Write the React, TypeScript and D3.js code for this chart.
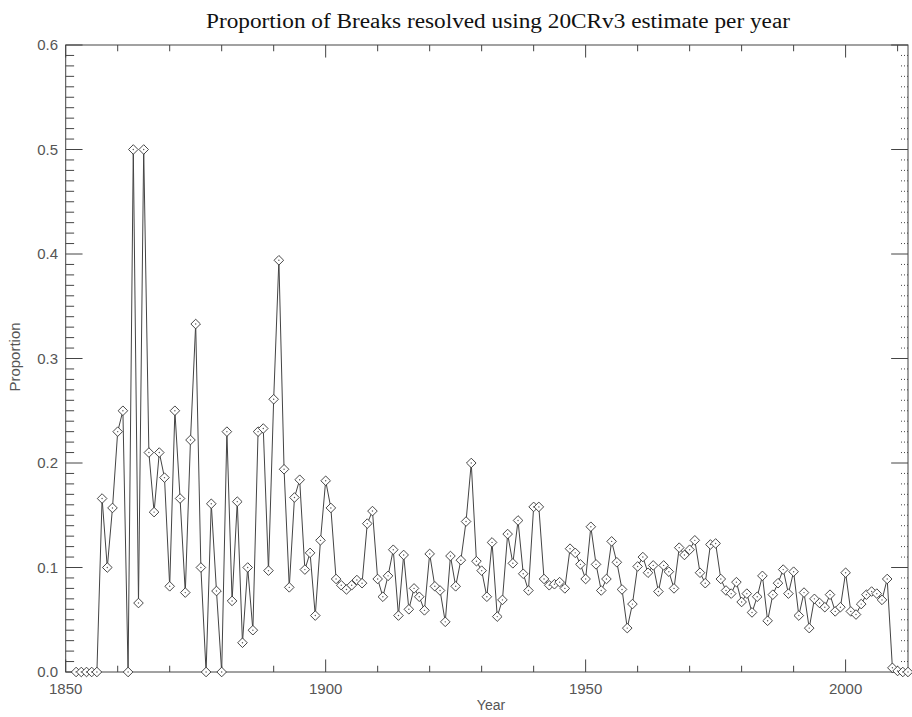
import React from "react";
import * as d3 from "d3";

const title = "Proportion of Breaks resolved using 20CRv3 estimate per year";
const years = d3.range(1852, 2013);
const proportion = [
  0, 0, 0, 0, 0, 0.166, 0.1, 0.157, 0.23, 0.25,
  0, 0.5, 0.066, 0.5, 0.21, 0.153, 0.21, 0.186, 0.082, 0.25,
  0.166, 0.076, 0.222, 0.333, 0.1, 0, 0.161, 0.0775, 0, 0.23,
  0.068, 0.163, 0.028, 0.1, 0.04, 0.23, 0.233, 0.097, 0.261, 0.394,
  0.194, 0.081, 0.167, 0.184, 0.098, 0.114, 0.054, 0.126, 0.183, 0.157,
  0.089, 0.083, 0.079, 0.083, 0.088, 0.085, 0.142, 0.154, 0.089, 0.072,
  0.092, 0.117, 0.054, 0.112, 0.06, 0.08, 0.072, 0.059, 0.113, 0.082,
  0.078, 0.048, 0.111, 0.082, 0.107, 0.144, 0.2, 0.106, 0.097, 0.072,
  0.124, 0.053, 0.069, 0.132, 0.104, 0.145, 0.094, 0.078, 0.158, 0.158,
  0.089, 0.083, 0.084, 0.086, 0.08, 0.118, 0.114, 0.103, 0.089, 0.139,
  0.103, 0.078, 0.089, 0.125, 0.105, 0.079, 0.042, 0.065, 0.101, 0.11,
  0.095, 0.102, 0.077, 0.102, 0.096, 0.08, 0.119, 0.112, 0.117, 0.126,
  0.095, 0.085, 0.122, 0.123, 0.089, 0.078, 0.075, 0.086, 0.067, 0.075,
  0.057, 0.072, 0.092, 0.049, 0.074, 0.085, 0.098, 0.075, 0.096, 0.054,
  0.076, 0.042, 0.07, 0.066, 0.062, 0.074, 0.058, 0.062, 0.095, 0.058,
  0.055, 0.065, 0.074, 0.077, 0.075, 0.069, 0.089, 0.004, 0.001, 0,
  0,
];
const xMajorTicks = [1850, 1900, 1950, 2000];
const xMinorTicks = d3.range(1860, 2012, 10).filter((t) => t % 50 !== 0);
const yMajorTicks = [0, 0.1, 0.2, 0.3, 0.4, 0.5, 0.6];
const yMinorTicks = d3.range(1, 60).map((i) => i / 100).filter((_, i) => (i + 1) % 10 !== 0);

const W = 912;
const H = 717;
const left = 65.7;
const right = 908;
const top = 45;
const bottom = 672;

const App = () => {
  const x = d3.scaleLinear().domain([1850, 2012]).range([left, right]);
  const y = d3.scaleLinear().domain([0, 0.6]).range([bottom, top]);

  const data = years.map((yr, i) => ({ yr, v: proportion[i] }));
  const line = d3.line<{ yr: number; v: number }>()
    .x((d) => x(d.yr))
    .y((d) => y(d.v));

  const xMajLen = (bottom - top) * 0.02;
  const yMajLen = (right - left) * 0.02;
  const axisColor = "#444";
  const textColor = "#555";
  const r = 4.8;

  return (
    <svg width={W} height={H} style={{ position: "absolute", left: 0, top: 0, background: "#fff" }}>
      <text
        x={498}
        y={28}
        textAnchor="middle"
        fontFamily="'Liberation Serif', 'Times New Roman', serif"
        fontSize={20}
        textLength={584}
        lengthAdjust="spacingAndGlyphs"
        fill="#111"
      >
        {title}
      </text>

      {/* frame */}
      <rect x={left} y={top} width={right - left} height={bottom - top} fill="none" stroke={axisColor} strokeWidth={1} />

      {/* ticks on all four sides */}
      <g stroke={axisColor} strokeWidth={1}>
        {xMajorTicks.map((t) => (
          <g key={`xM${t}`}>
            <line x1={x(t)} x2={x(t)} y1={bottom} y2={bottom - xMajLen} />
            <line x1={x(t)} x2={x(t)} y1={top} y2={top + xMajLen} />
          </g>
        ))}
        {xMinorTicks.map((t) => (
          <g key={`xm${t}`}>
            <line x1={x(t)} x2={x(t)} y1={bottom} y2={bottom - xMajLen / 2} />
            <line x1={x(t)} x2={x(t)} y1={top} y2={top + xMajLen / 2} />
          </g>
        ))}
        {yMajorTicks.map((t) => (
          <g key={`yM${t}`}>
            <line x1={left} x2={left + yMajLen} y1={y(t)} y2={y(t)} />
            <line x1={right} x2={right - yMajLen} y1={y(t)} y2={y(t)} />
          </g>
        ))}
        {yMinorTicks.map((t) => (
          <g key={`ym${t}`}>
            <line x1={left} x2={left + yMajLen / 2} y1={y(t)} y2={y(t)} />
            <line x1={right} x2={right - yMajLen / 2} y1={y(t)} y2={y(t)} strokeDasharray="1,2" />
          </g>
        ))}
      </g>

      <g fontFamily="'Liberation Sans', Arial, sans-serif" fontSize={15} fill={textColor}>
        {xMajorTicks.map((t) => (
          <text key={`xl${t}`} x={x(t)} y={694} textAnchor="middle">
            {t}
          </text>
        ))}
        {yMajorTicks.map((t) => (
          <text key={`yl${t}`} x={58} y={y(t) + 5} textAnchor="end">
            {t.toFixed(1)}
          </text>
        ))}
        <text x={491} y={710} textAnchor="middle" fontSize={14}>
          Year
        </text>
        <text transform="translate(20,357) rotate(-90)" textAnchor="middle">
          Proportion
        </text>
      </g>

      <path d={line(data) ?? ""} fill="none" stroke="#444" strokeWidth={1} />

      <g>
        {data.map((d) => {
          const cx = x(d.yr);
          const cy = y(d.v);
          return (
            <g key={d.yr}>
              <path
                d={`M${cx},${cy - r}L${cx + r},${cy}L${cx},${cy + r}L${cx - r},${cy}Z`}
                fill="#fff"
                stroke="#333"
                strokeWidth={0.9}
              />
              <circle cx={cx} cy={cy} r={0.7} fill="#555" />
            </g>
          );
        })}
      </g>
    </svg>
  );
};

export default App;
